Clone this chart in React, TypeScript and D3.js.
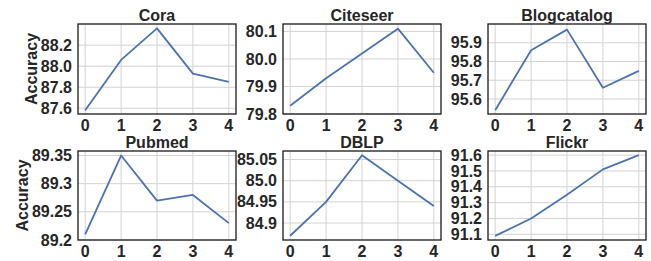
import { useRef, useEffect } from "react";
import { select, scaleLinear, line } from "d3";

// datasets, one per panel (row-major)
const titles = ["Cora", "Citeseer", "Blogcatalog", "Pubmed", "DBLP", "Flickr"];
const xValues = [0, 1, 2, 3, 4];

const cora = [87.58, 88.06, 88.36, 87.93, 87.85];
const citeseer = [79.83, 79.93, 80.02, 80.11, 79.95];
const blogcatalog = [95.54, 95.86, 95.97, 95.66, 95.75];
const pubmed = [89.21, 89.35, 89.27, 89.28, 89.23];
const dblp = [84.87, 84.95, 85.06, 85.0, 84.94];
const flickr = [91.09, 91.2, 91.35, 91.51, 91.6];
const series = [cora, citeseer, blogcatalog, pubmed, dblp, flickr];

// y axis limits
const yLimits: [number, number][] = [
  [87.545, 88.402],
  [79.8, 80.127],
  [95.52, 96.0],
  [89.2, 89.358],
  [84.86, 85.07],
  [91.064, 91.626],
];

const yTicks = [
  [87.6, 87.8, 88.0, 88.2],
  [79.8, 79.9, 80.0, 80.1],
  [95.6, 95.7, 95.8, 95.9],
  [89.2, 89.25, 89.3, 89.35],
  [84.9, 84.95, 85.0, 85.05],
  [91.1, 91.2, 91.3, 91.4, 91.5, 91.6],
];
const yTickLabels = [
  ["87.6", "87.8", "88.0", "88.2"],
  ["79.8", "79.9", "80.0", "80.1"],
  ["95.6", "95.7", "95.8", "95.9"],
  ["89.2", "89.25", "89.3", "89.35"],
  ["84.9", "84.95", "85.0", "85.05"],
  ["91.1", "91.2", "91.3", "91.4", "91.5", "91.6"],
];

const W = 651;
const H = 261;
const FONT = "'Liberation Sans', Arial, sans-serif";
const TEXT = "#262626";

const App = () => {
  const ref = useRef<SVGSVGElement>(null);

  useEffect(() => {
    if (!ref.current) return;
    const svg = select(ref.current);
    svg.selectAll("*").remove();

    const colLeft = [78, 283, 488];
    const panelW = 158;
    const rowTop = [24, 151];
    const rowH = [90, 89];

    series.forEach((vals, i) => {
      const col = i % 3;
      const row = Math.floor(i / 3);
      const left = colLeft[col];
      const top = rowTop[row];
      const h = rowH[row];

      const x = scaleLinear().domain([-0.2, 4.2]).range([left, left + panelW]);
      const y = scaleLinear().domain(yLimits[i]).range([top + h, top]);

      const g = svg.append("g");

      // grid
      g.selectAll("line.vg")
        .data(xValues)
        .enter()
        .append("line")
        .attr("x1", (d) => x(d))
        .attr("x2", (d) => x(d))
        .attr("y1", top)
        .attr("y2", top + h)
        .attr("stroke", "#d3d3d3")
        .attr("stroke-width", 1);
      g.selectAll("line.hg")
        .data(yTicks[i])
        .enter()
        .append("line")
        .attr("x1", left)
        .attr("x2", left + panelW)
        .attr("y1", (d) => y(d))
        .attr("y2", (d) => y(d))
        .attr("stroke", "#d3d3d3")
        .attr("stroke-width", 1);

      // the line itself
      const path = line<number>()
        .x((_d, k) => x(xValues[k]))
        .y((d) => y(d));
      g.append("path")
        .datum(vals)
        .attr("d", path)
        .attr("fill", "none")
        .attr("stroke", "#4c72b0")
        .attr("stroke-width", 1.8)
        .attr("stroke-linejoin", "round");

      // spines
      g.append("rect")
        .attr("x", left)
        .attr("y", top)
        .attr("width", panelW)
        .attr("height", h)
        .attr("fill", "none")
        .attr("stroke", "#1a1a1a")
        .attr("stroke-width", 1.3);

      // x tick labels
      g.selectAll("text.xt")
        .data(xValues)
        .enter()
        .append("text")
        .attr("x", (d) => x(d))
        .attr("y", top + h + 17)
        .attr("text-anchor", "middle")
        .text((d) => String(d));

      // y tick labels
      const yl = g
        .selectAll("text.yt")
        .data(yTicks[i])
        .enter()
        .append("text")
        .attr("x", left - 6)
        .attr("y", (d) => y(d))
        .attr("dy", "0.35em")
        .attr("text-anchor", "end")
        .text((_d, k) => yTickLabels[i][k]);

      // title
      g.append("text")
        .attr("x", left + panelW / 2)
        .attr("y", top - 3.5)
        .attr("text-anchor", "middle")
        .text(titles[i]);

      // y label on the first column only
      if (col === 0) {
        let maxW = 0;
        yl.each(function () {
          maxW = Math.max(maxW, (this as SVGTextElement).getComputedTextLength());
        });
        const lx = left - 6 - maxW - 4;
        g.append("text")
          .attr("transform", `translate(${lx}, ${top + h / 2}) rotate(-90)`)
          .attr("text-anchor", "middle")
          .text("Accuracy");
      }
    });
  }, []);

  return (
    <svg
      ref={ref}
      width={W}
      height={H}
      style={{
        position: "absolute",
        left: 0,
        top: 0,
        background: "#fff",
        fontFamily: FONT,
        fontSize: 16,
        fontWeight: "bold",
        fill: TEXT,
      }}
    />
  );
};

export default App;
